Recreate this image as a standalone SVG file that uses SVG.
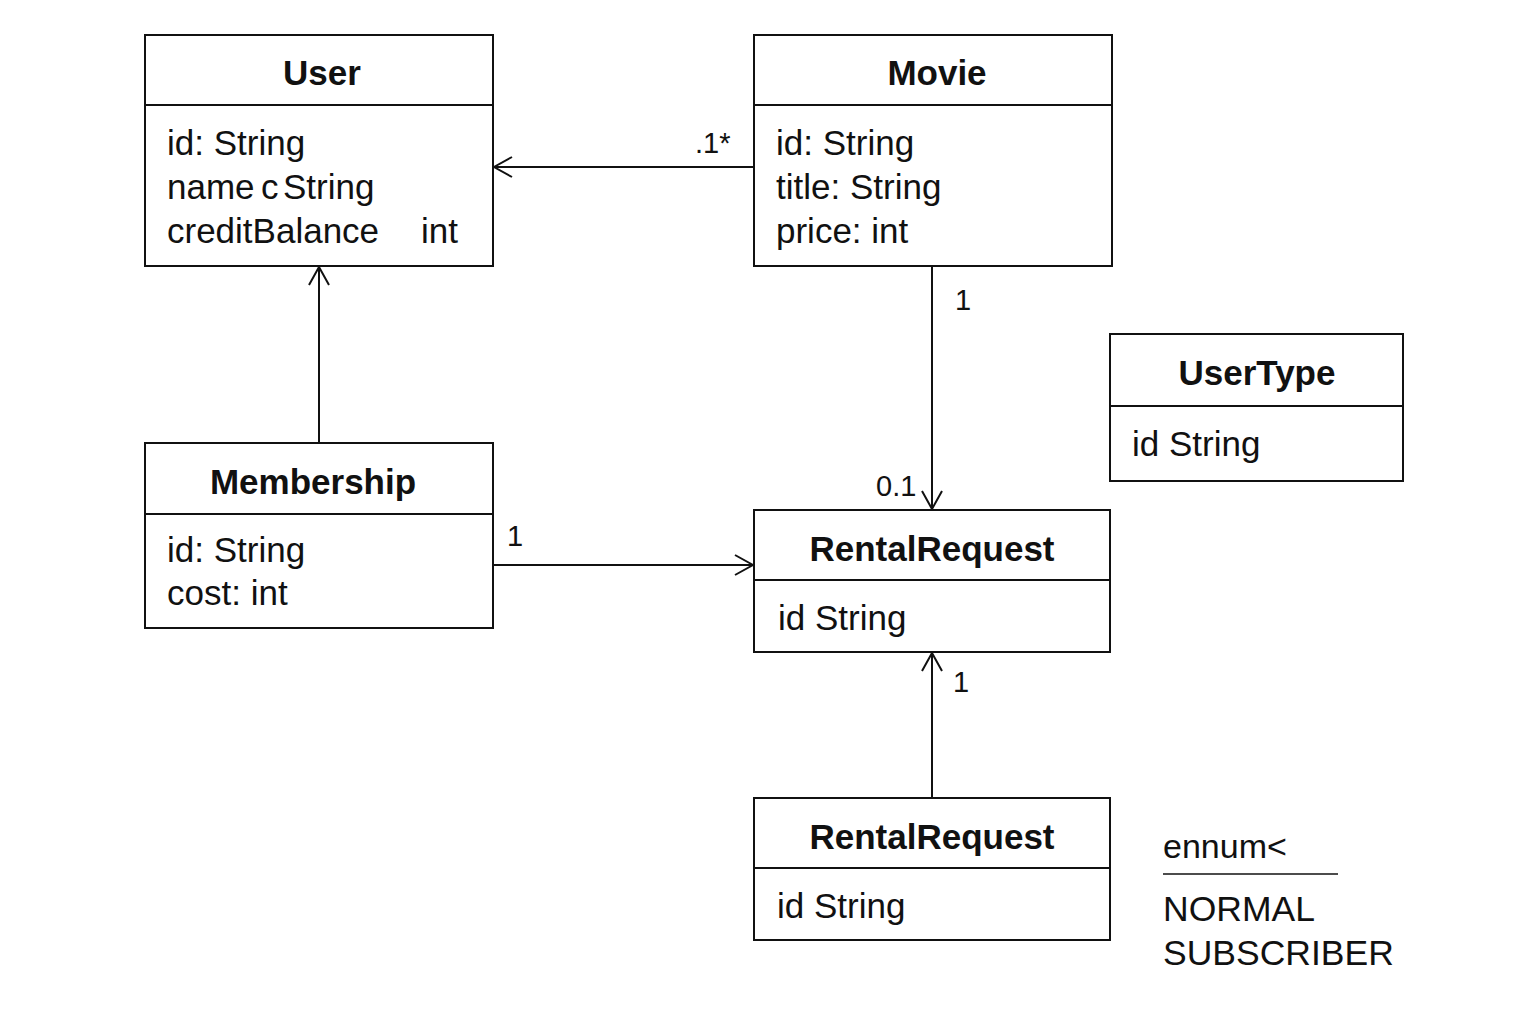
<svg xmlns="http://www.w3.org/2000/svg" width="1536" height="1024" viewBox="0 0 1536 1024">
<style>
.box{fill:#fff;stroke:#111;stroke-width:2}
.sep{stroke:#111;stroke-width:2}
.t{font-family:"Liberation Sans",Arial,sans-serif;font-weight:bold;font-size:35px;fill:#111;text-anchor:middle}
.a{font-family:"Liberation Sans",Arial,sans-serif;font-size:35px;fill:#111}
.l{font-family:"Liberation Sans",Arial,sans-serif;font-size:29px;fill:#111}
.c{stroke:#111;stroke-width:2;fill:none}
</style>
<defs>
<marker id="arr" markerUnits="userSpaceOnUse" markerWidth="24" markerHeight="24" viewBox="0 0 24 24" refX="22" refY="12" orient="auto">
<path d="M4,2 L22,12 L4,22" fill="none" stroke="#111" stroke-width="2"/>
</marker>
</defs>
<rect width="1536" height="1024" fill="#fff"/>
<g id="connectors">
<line class="c" x1="754" y1="167" x2="494" y2="167" marker-end="url(#arr)"/>
<text class="l" x="695" y="153">.1*</text>
<line class="c" x1="319" y1="443" x2="319" y2="267" marker-end="url(#arr)"/>
<line class="c" x1="932" y1="266" x2="932" y2="509" marker-end="url(#arr)"/>
<text class="l" x="955" y="310">1</text>
<text class="l" x="876" y="496">0.1</text>
<line class="c" x1="493" y1="565" x2="753" y2="565" marker-end="url(#arr)"/>
<text class="l" x="507" y="546">1</text>
<line class="c" x1="932" y1="798" x2="932" y2="653" marker-end="url(#arr)"/>
<text class="l" x="953" y="692">1</text>
</g>
<g id="User">
<rect class="box" x="145" y="35" width="348" height="231"/>
<line class="sep" x1="145" y1="105" x2="493" y2="105"/>
<text class="t" x="322" y="85">User</text>
<text class="a" x="167" y="155">id: String</text>
<text class="a" y="199"><tspan x="167">name</tspan><tspan x="261">c</tspan><tspan x="283">String</tspan></text>
<text class="a" y="243"><tspan x="167">creditBalance</tspan><tspan x="421">int</tspan></text>
</g>
<g id="Movie">
<rect class="box" x="754" y="35" width="358" height="231"/>
<line class="sep" x1="754" y1="105" x2="1112" y2="105"/>
<text class="t" x="937" y="85">Movie</text>
<text class="a" x="776" y="155">id: String</text>
<text class="a" x="776" y="199">title: String</text>
<text class="a" x="776" y="243">price: int</text>
</g>
<g id="UserType">
<rect class="box" x="1110" y="334" width="293" height="147"/>
<line class="sep" x1="1110" y1="406" x2="1403" y2="406"/>
<text class="t" x="1257" y="385">UserType</text>
<text class="a" x="1132" y="456">id String</text>
</g>
<g id="Membership">
<rect class="box" x="145" y="443" width="348" height="185"/>
<line class="sep" x1="145" y1="514" x2="493" y2="514"/>
<text class="t" x="313" y="494">Membership</text>
<text class="a" x="167" y="562">id: String</text>
<text class="a" x="167" y="605">cost: int</text>
</g>
<g id="RentalRequest1">
<rect class="box" x="754" y="510" width="356" height="142"/>
<line class="sep" x1="754" y1="580" x2="1110" y2="580"/>
<text class="t" x="932" y="561">RentalRequest</text>
<text class="a" x="778" y="630">id String</text>
</g>
<g id="RentalRequest2">
<rect class="box" x="754" y="798" width="356" height="142"/>
<line class="sep" x1="754" y1="868" x2="1110" y2="868"/>
<text class="t" x="932" y="849">RentalRequest</text>
<text class="a" x="777" y="918">id String</text>
</g>
<g id="enum">
<text class="a" x="1163" y="858" style="font-size:34px">ennum&lt;</text>
<line class="sep" x1="1163" y1="874" x2="1338" y2="874" style="stroke-width:1.5"/>
<text class="a" x="1163" y="921" style="font-size:35.5px">NORMAL</text>
<text class="a" x="1163" y="965" style="font-size:35.5px">SUBSCRIBER</text>
</g>
</svg>
